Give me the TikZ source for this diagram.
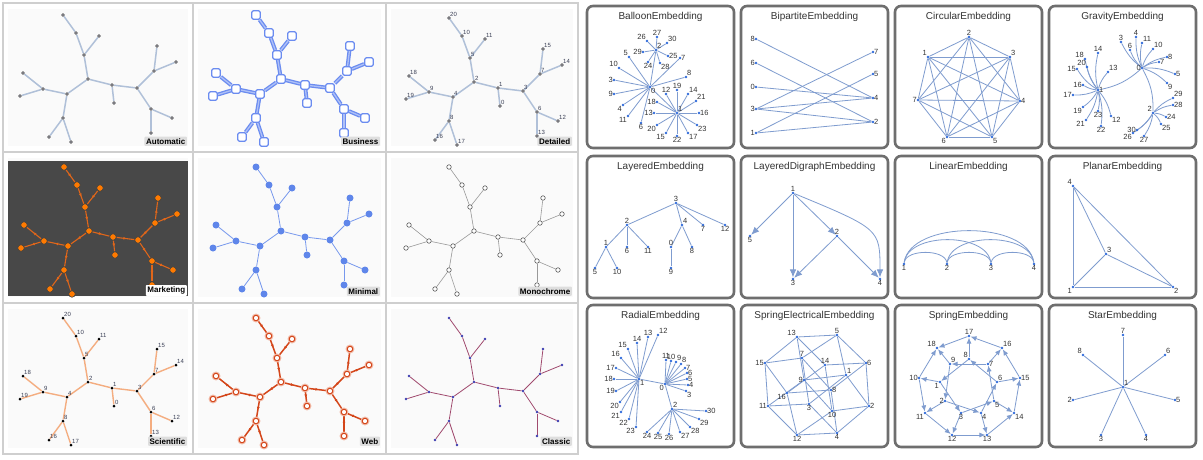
\documentclass[tikz,border=0pt]{standalone}
\usepackage{fontspec}
\setmainfont{Liberation Sans}
\usetikzlibrary{arrows.meta,decorations.markings}
\pgfdeclarelayer{bglayer}
\pgfdeclarelayer{edgelayer}
\pgfsetlayers{bglayer,edgelayer,main}
\definecolor{gridline}{HTML}{CFCFCF}
\definecolor{panelbg}{HTML}{FAFAFA}
\definecolor{autoedgec}{HTML}{B0C0D8}
\definecolor{autonodec}{HTML}{7D7D85}
\definecolor{busblue}{HTML}{6B8CF0}
\definecolor{mktbg}{HTML}{484848}
\definecolor{mktorange}{HTML}{FF7A00}
\definecolor{mktedgec}{HTML}{E0661A}
\definecolor{minblue}{HTML}{5F86EA}
\definecolor{sciedgec}{HTML}{F4AD80}
\definecolor{webred}{HTML}{D4461A}
\definecolor{webhalo}{HTML}{F2BBA8}
\definecolor{classedgec}{HTML}{A04A6E}
\definecolor{classnodec}{HTML}{3A3AB0}
\definecolor{boxborder}{HTML}{6E6E6E}
\definecolor{gedge}{HTML}{7F9CCF}
\definecolor{gnode}{HTML}{2F6BDB}
\definecolor{glabel}{HTML}{333333}
\definecolor{tlabel}{HTML}{3A3F55}

\def\treenodes{a/63/15,b/76/33,c/99/36,d/84/55,e/88/79,f/67/94,g/43/89,h/23/73,i/20/96,j/63/118,k/49/137,l/71/142,m/112/85,n/114/103,o/137/88,p/154/71,q/157/46,r/176/62,s/151/109,t/172/118,u/151/133}
\def\treeedges{a/b,b/d,c/d,d/e,e/f,f/g,g/h,g/i,f/j,j/k,j/l,e/m,m/n,m/o,o/p,p/q,p/r,o/s,s/t,s/u}
\def\treelbls{a/20,b/10,c/11,d/5,e/2,f/4,g/9,h/18,i/19,j/8,k/16,l/17,m/1,n/0,o/3,p/7,q/15,r/14,s/6,t/12,u/13}

\newcommand\drawtree[5]{%
  \foreach \n/\x/\y in \treenodes {\node[#4] (#1\n) at ({\x+#2},{\y+#3}) {};}
  \begin{pgfonlayer}{edgelayer}
  \foreach \s/\t in \treeedges {\draw[#5] (#1\s) -- (#1\t);}
  \end{pgfonlayer}}
\newcommand\labeltree[1]{%
  \foreach \n/\l in \treelbls {\node[tlbl,anchor=south west] (#1l\n) at (#1\n.center) {\l};}}
\newcommand\gv[5]{\node[gdot] (#1) at (#2,#3) {}; \node[glbl,anchor=#5] (#1t) at (#1.center) {#4};}
\newcommand\hubleaves[4]{%
  \foreach \n/\x/\y/\a in {#3} {\gv{#1\n}{\x}{\y}{\n}{\a}
    \begin{pgfonlayer}{edgelayer}\draw[gline] (#1#2) to[#4] (#1\n);\end{pgfonlayer}}}
\newcommand\glines[2]{%
  \begin{pgfonlayer}{edgelayer}
  \foreach \s/\t in {#2} {\draw[gline] (#1\s) -- (#1\t);}
  \end{pgfonlayer}}
\newcommand\garrows[2]{%
  \begin{pgfonlayer}{edgelayer}
  \foreach \s/\t in {#2} {\draw[garrow] (#1\s) -- (#1\t);}
  \end{pgfonlayer}}

\begin{document}
\begin{tikzpicture}[x=1pt,y=-1pt,
  autodot/.style={circle,fill=autonodec,draw=black!55,line width=0.3pt,inner sep=0pt,minimum size=3.4pt},
  autoedge/.style={draw=autoedgec,line width=1.5pt},
  busnode/.style={rectangle,rounded corners=1.5pt,draw=busblue,line width=1.2pt,fill=white,inner sep=0pt,minimum size=8.5pt},
  busedge/.style={draw=busblue,line width=1.3pt,double=busblue!55,double distance=1.3pt},
  mktdot/.style={circle,fill=mktorange,draw=black!75,line width=0.6pt,inner sep=0pt,minimum size=6.5pt},
  mktedge/.style={draw=mktedgec,line width=1.1pt,postaction=decorate,decoration={markings,mark=at position 0.55 with {\arrow{Latex[length=3pt,width=3pt]}}}},
  mindot/.style={circle,fill=minblue,inner sep=0pt,minimum size=7pt},
  minedge/.style={draw=minblue!85,line width=0.8pt},
  monodot/.style={circle,fill=white,draw=black!65,line width=0.6pt,inner sep=0pt,minimum size=4.5pt},
  monoedge/.style={draw=black!40,line width=0.6pt},
  scidot/.style={circle,fill=black,inner sep=0pt,minimum size=3pt},
  sciedge/.style={draw=sciedgec,line width=1.4pt},
  webdot/.style={circle,fill=white,draw=webred,line width=1pt,inner sep=0pt,minimum size=5.5pt,preaction={draw=webhalo,line width=3.2pt}},
  webedge/.style={draw=webred,line width=1.5pt,postaction=decorate,decoration={markings,mark=at position 0.55 with {\arrow{Latex[length=3pt,width=3pt]}}}},
  classdot/.style={circle,fill=classnodec,inner sep=0pt,minimum size=2.6pt},
  classedge/.style={draw=classedgec,line width=0.8pt},
  tlbl/.style={text=tlabel,font=\fontsize{6}{6}\selectfont,inner sep=1pt},
  stylelbl/.style={fill=black!13,font=\fontsize{8}{9}\selectfont\bfseries,inner sep=1.6pt,rounded corners=0.8pt,anchor=south east},
  gdot/.style={circle,fill=gnode,inner sep=0pt,minimum size=2.8pt},
  glbl/.style={text=glabel,font=\fontsize{7.5}{8}\selectfont,inner sep=1pt},
  gline/.style={draw=gedge,line width=0.8pt},
  garrow/.style={gline,-{Latex[length=6pt,width=5pt]}},
  bigarrow/.style={gline,-{Latex[length=8pt,width=6.5pt]}},
  boxst/.style={draw=boxborder,line width=2.6pt,rounded corners=6pt,fill=white},
  titlest/.style={text=glabel,font=\fontsize{10}{12}\selectfont,inner sep=0pt}]
\useasboundingbox (0,0) rectangle (1203,459);
\begin{pgfonlayer}{bglayer}
\fill[white] (0,0) rectangle (1203,459);
\foreach \xa/\xb in {3/193,193/386,386/578}
  \foreach \ya/\yb in {3/152,152/303,303/454}
    {\fill[panelbg] (\xa+5,\ya+6) rectangle (\xb-5,\yb-6);}
\fill[mktbg] (8,161) rectangle (188,296);
\draw[gridline,line width=1.2pt] (3,3) rectangle (578,454);
\draw[gridline,line width=1.2pt] (193,3) -- (193,454) (386,3) -- (386,454) (3,152) -- (578,152) (3,303) -- (578,303);
\foreach \xa in {587,741,895,1049}
  \foreach \ya in {6,156,305}
    {\draw[boxst] (\xa,\ya) rectangle (\xa+147,\ya+142);}
\end{pgfonlayer}

% ---------- left: style panels ----------
\drawtree{A}{0}{0}{autodot}{autoedge}
\drawtree{B}{193}{0}{busnode}{busedge}
\drawtree{C}{386}{3}{autodot}{autoedge}
\labeltree{C}
\drawtree{D}{1}{152}{mktdot}{mktedge}
\drawtree{E}{193}{152}{mindot}{minedge}
\drawtree{F}{386}{152}{monodot}{monoedge}
\drawtree{G}{0}{303}{scidot}{sciedge}
\labeltree{G}
\drawtree{H}{193}{303}{webdot}{webedge}
\drawtree{I}{386}{303}{classdot}{classedge}

\node[stylelbl] (lAuto) at (187,146) {Automatic};
\node[stylelbl] (lBus) at (380,146) {Business};
\node[stylelbl] (lDet) at (572,146) {Detailed};
\node[stylelbl,fill=white] (lMkt) at (187,296) {Marketing};
\node[stylelbl] (lMin) at (380,296) {Minimal};
\node[stylelbl] (lMono) at (572,296) {Monochrome};
\node[stylelbl] (lSci) at (187,446) {Scientific};
\node[stylelbl] (lWeb) at (380,446) {Web};
\node[stylelbl] (lCla) at (572,446) {Classic};

% ---------- right: titles ----------
\node[titlest] (t1) at (660.5,16.5) {BalloonEmbedding};
\node[titlest] (t2) at (814.5,16.5) {BipartiteEmbedding};
\node[titlest] (t3) at (968.5,16.5) {CircularEmbedding};
\node[titlest] (t4) at (1122.5,16.5) {GravityEmbedding};
\node[titlest] (t5) at (660.5,166.5) {LayeredEmbedding};
\node[titlest] (t6) at (814.5,166.5) {LayeredDigraphEmbedding};
\node[titlest] (t7) at (968.5,166.5) {LinearEmbedding};
\node[titlest] (t8) at (1122.5,166.5) {PlanarEmbedding};
\node[titlest] (t9) at (660.5,315.5) {RadialEmbedding};
\node[titlest] (t10) at (814.5,315.5) {SpringElectricalEmbedding};
\node[titlest] (t11) at (968.5,315.5) {SpringEmbedding};
\node[titlest] (t12) at (1122.5,315.5) {StarEmbedding};

% ---------- Balloon ----------
\gv{ba0}{650}{87}{0}{north west}
\gv{ba1}{677}{113}{1}{south west}
\gv{ba2}{656}{50}{2}{south west}
\glines{ba}{0/1,0/2}
\hubleaves{ba}{2}{27/657/37/south,26/647/41/south east,30/667/43/south west,29/643/52/east,25/668/56/west,24/648/62/north,28/660/63/north west}{}
\hubleaves{ba}{0}{5/629/57/south east,10/619/68/south east,3/614/80/east,9/614/94/east,4/623/105/north east,11/628/116/north east,6/641/123/north,7/680/58/west,8/686/77/south west}{}
\hubleaves{ba}{1}{12/666/94/south,18/657/102/east,19/677/90/south,14/688/94/south west,21/696/101/south west,16/699/113/west,23/697/125/north west,17/688/133/north west,22/677/136/north,15/666/133/north east,20/657/125/north east,13/654/113/east}{}

% ---------- Bipartite ----------
\foreach \n/\y in {8/39,6/63,0/87,3/109,1/133} {\gv{bp\n}{756}{\y}{\n}{east}}
\foreach \n/\y in {7/52,5/74,4/98,2/122} {\gv{bp\n}{873}{\y}{\n}{west}}
\glines{bp}{8/4,6/2,0/4,3/7,3/4,3/2,1/5,1/2}

% ---------- Circular ----------
\gv{ci1}{928}{57}{1}{south east}
\gv{ci2}{969}{37}{2}{south}
\gv{ci3}{1010}{57}{3}{south west}
\gv{ci4}{1020}{101}{4}{west}
\gv{ci5}{992}{137}{5}{north west}
\gv{ci6}{947}{137}{6}{north east}
\gv{ci7}{918}{100}{7}{east}
\glines{ci}{1/2,1/3,1/4,1/5,1/6,1/7,2/3,2/4,2/5,2/6,2/7,3/4,3/5,3/6,3/7,4/5,4/6,4/7,5/6,5/7,6/7}

% ---------- Gravity ----------
\gv{gr0}{1142}{68}{0}{east}
\gv{gr1}{1098}{90}{1}{west}
\gv{gr2}{1153}{113}{2}{south east}
\begin{pgfonlayer}{edgelayer}
\draw[gline] (gr0) to[bend left=15] (gr1);
\draw[gline] (gr0) to[bend left=15] (gr2);
\end{pgfonlayer}
\hubleaves{gr}{0}{3/1121/42/south,4/1136/37/south,11/1142/43/south west,6/1130/50/south,10/1153/49/south west,8/1167/57/west,7/1159/62/west,5/1175/74/west,9/1167/83/north west}{bend left=12}
\hubleaves{gr}{1}{14/1098/53/south,13/1108/72/south west,18/1085/59/south east,20/1087/67/south east,15/1077/69/east,16/1083/85/east,17/1073/95/east,19/1083/107/north east,21/1086/120/north east,23/1098/111/north,22/1101/126/north,12/1111/116/north west}{bend left=12}
\hubleaves{gr}{2}{29/1173/98/south west,28/1173/105/west,24/1166/117/west,25/1161/124/north west,30/1137/130/east,26/1133/133/north east,27/1144/136/north}{bend left=12}

% ---------- Layered ----------
\foreach \n/\x/\y/\a in {3/676/203/south,2/627/225/south,4/682/225/south west,7/703/225/north,12/725/225/north,1/606/247/south,6/627/247/north,11/648/247/north,0/671/247/south,8/692/247/north,5/595/268/north,10/617/268/north,9/671/268/north}
  {\gv{la\n}{\x}{\y}{\n}{\a}}
\glines{la}{3/2,3/4,3/7,3/12,2/1,2/6,2/11,1/5,1/10,4/0,4/8,0/9}

% ---------- LayeredDigraph ----------
\gv{ld1}{793}{193}{1}{south}
\gv{ld5}{750}{236}{5}{north}
\gv{ld2}{837}{236}{2}{south}
\gv{ld3}{793}{279}{3}{north}
\gv{ld4}{880}{279}{4}{north}
\begin{pgfonlayer}{edgelayer}
\foreach \s/\t in {1/5,1/3,1/2,2/3,2/4} {\draw[bigarrow] (ld\s) -- (ld\t);}
\draw[bigarrow] (ld1) .. controls (880,229) .. (ld4);
\end{pgfonlayer}

% ---------- Linear ----------
\gv{li1}{904}{264}{1}{north}
\gv{li2}{947}{264}{2}{north}
\gv{li3}{991}{264}{3}{north}
\gv{li4}{1034}{264}{4}{north}
\begin{pgfonlayer}{edgelayer}
\draw[gline] (li1) .. controls (906,249) and (945,249) .. (li2);
\draw[gline] (li2) .. controls (949,249) and (989,249) .. (li3);
\draw[gline] (li3) .. controls (993,249) and (1032,249) .. (li4);
\draw[gline] (li1) .. controls (908,232) and (987,232) .. (li3);
\draw[gline] (li2) .. controls (951,232) and (1030,232) .. (li4);
\draw[gline] (li1) .. controls (910,220) and (1028,220) .. (li4);
\end{pgfonlayer}

% ---------- Planar ----------
\gv{pl4}{1073}{186}{4}{south east}
\gv{pl3}{1106}{254}{3}{south west}
\gv{pl1}{1073}{287}{1}{north east}
\gv{pl2}{1173}{287}{2}{north west}
\glines{pl}{4/1,4/2,4/3,3/1,3/2,1/2}

% ---------- Radial ----------
\gv{ra1}{639}{379}{1}{north west}
\gv{ra0}{665}{384}{0}{north east}
\gv{ra2}{672}{409}{2}{south west}
\glines{ra}{1/0,0/2}
\hubleaves{ra}{1}{12/658/335/south west,13/648/337/south,14/637/343/south,15/628/349/south east,16/621/358/south east,17/616/368/east,18/614/379/east,19/616/391/east,20/620/402/north east,21/621/412/north east,22/629/419/north east,23/636/427/north east}{}
\hubleaves{ra}{0}{11/666/360/south,10/671/361/south,9/676/362/south west,8/681/364/south west,7/685/368/west,6/687/373/west,5/687/379/west,4/688/385/west,3/686/391/north west}{}
\hubleaves{ra}{2}{30/706/411/west,29/699/419/north west,28/690/427/north west,27/680/432/north west,26/669/434/north,25/658/433/north,24/647/432/north}{}

% ---------- SpringElectrical ----------
\foreach \n/\x/\y/\a in {13/797/337/south east,5/837/335/south,15/765/363/east,6/866/363/west,7/802/358/south,14/825/365/south,9/804/380/east,1/846/375/south west,16/787/393/north east,8/831/390/west,11/768/406/east,2/869/406/west,3/809/404/north,10/832/411/north,12/797/435/north,4/837/433/north}
  {\gv{se\n}{\x}{\y}{\n}{\a}}
\glines{se}{13/5,5/6,6/2,2/4,4/12,12/11,11/15,15/13,14/10,14/16,9/1,9/10,1/3,7/8,7/3,16/8,13/14,13/9,5/1,5/7,6/14,6/8,2/1,2/10,4/8,4/3,12/10,12/16,11/9,11/3,15/7,15/16}

% ---------- Spring ----------
\foreach \n/\x/\y/\a in {17/969/336/south,16/1002/348/south west,15/1020/378/west,14/1014/413/north west,13/987/435/north,12/952/435/north,11/925/413/north east,10/919/378/east,18/937/348/south east,9/950/364/south west,8/969/359/south east,7/988/364/west,6/997/382/south west,5/994/401/north west,4/981/413/north west,3/961/413/north,2/945/401/east,1/940/382/north east}
  {\gv{sp\n}{\x}{\y}{\n}{\a}}
\garrows{sp}{10/11,11/12,12/13,13/14,14/15,15/16,16/17,17/18,10/18,1/10,2/11,3/12,4/13,5/14,6/15,7/16,8/17,9/18,1/3,2/4,3/5,4/6,5/7,6/8,7/9,8/1,9/2}

% ---------- Star ----------
\gv{st1}{1123}{387}{1}{south west}
\gv{st7}{1123}{335}{7}{south}
\gv{st6}{1165}{355}{6}{south west}
\gv{st5}{1175}{400}{5}{west}
\gv{st4}{1146}{435}{4}{north}
\gv{st3}{1101}{435}{3}{north}
\gv{st2}{1073}{400}{2}{east}
\gv{st8}{1083}{355}{8}{south east}
\glines{st}{1/7,1/6,1/5,1/4,1/3,1/2,1/8}
\end{tikzpicture}
\end{document}
